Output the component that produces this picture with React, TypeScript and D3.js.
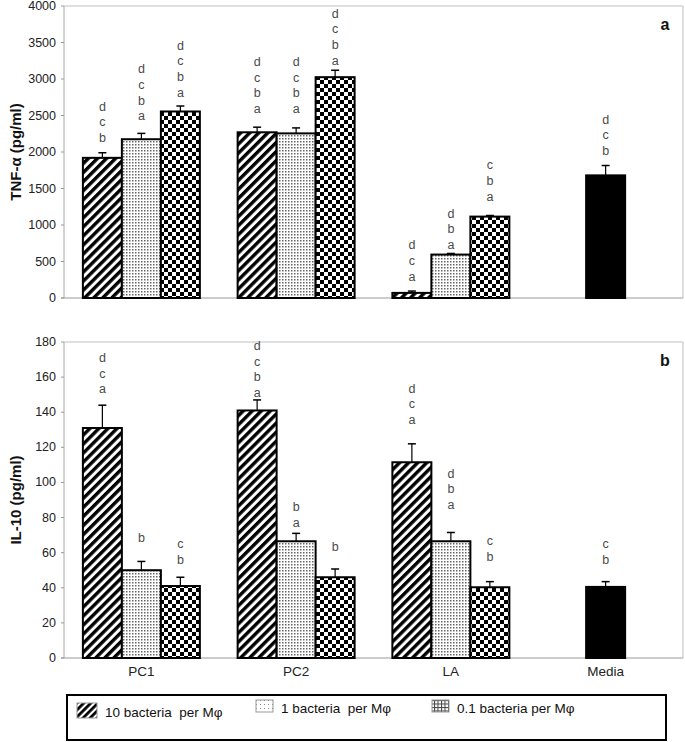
import React from "react";
import * as d3 from "d3";

const categories = ["PC1", "PC2", "LA", "Media"];
const seriesNames = ["10 bacteria  per Mφ", "1 bacteria  per Mφ", "0.1 bacteria per Mφ"];

// TNF-α panel (a): rows = PC1, PC2, LA; columns = series
const tnfMean = [
  [1920, 2175, 2555],
  [2270, 2255, 3025],
  [70, 595, 1115],
];
const tnfSE = [
  [70, 80, 75],
  [70, 75, 95],
  [25, 15, 15],
];
const tnfLetters = [
  ["dcb", "dcba", "dcba"],
  ["dcba", "dcba", "dcba"],
  ["dca", "dba", "cba"],
];
const tnfLetterBase = [
  [2190, 2490, 2810],
  [2590, 2590, 3250],
  [290, 725, 1385],
];
const tnfMedia = 1680;
const tnfMediaSE = 135;
const tnfMediaLetters = "dcb";
const tnfMediaLetterBase = 2015;
const tnfTicks = [0, 500, 1000, 1500, 2000, 2500, 3000, 3500, 4000];

// IL-10 panel (b)
const il10Mean = [
  [131, 50, 41],
  [141, 66.5, 46],
  [111.5, 66.5, 40.3],
];
const il10SE = [
  [13, 5, 5],
  [6, 4.5, 4.7],
  [10.5, 5, 3.2],
];
const il10Letters = [
  ["dca", "b", "cb"],
  ["dcba", "ba", "b"],
  ["dca", "dba", "cb"],
];
const il10LetterBase = [
  [153, 68.4, 55.8],
  [151, 76.9, 63.2],
  [135.6, 87.1, 57.5],
];
const il10Media = 40.5;
const il10MediaSE = 3;
const il10MediaLetters = "cb";
const il10MediaLetterBase = 55.8;
const il10Ticks = [0, 20, 40, 60, 80, 100, 120, 140, 160, 180];

const W = 685;
const H = 742;
const plotLeft = 64;
const plotRight = 683;
const FONT = "'Liberation Sans', Arial, sans-serif";
const fills = ["url(#stripes)", "url(#dots)", "url(#checker)"];

const x = d3.scaleBand<string>().domain(categories).range([plotLeft, plotRight]).padding(0);
const groupFrac = 0.756;

function sub(cat: string) {
  const c = (x(cat) as number) + x.bandwidth() / 2;
  const gw = x.bandwidth() * groupFrac;
  return d3.scaleBand<number>().domain([0, 1, 2]).range([c - gw / 2, c + gw / 2]).padding(0);
}

type PanelProps = {
  top: number;
  bottom: number;
  max: number;
  ticks: number[];
  mean: number[][];
  se: number[][];
  letters: string[][];
  letterBase: number[][];
  media: number;
  mediaSE: number;
  mediaLetters: string;
  mediaLetterBase: number;
  title: string;
  tag: string;
  showX: boolean;
};

function Letters({ cx, base, text, y }: { cx: number; base: number; text: string; y: d3.ScaleLinear<number, number> }) {
  const chars = text.split("");
  const n = chars.length;
  return (
    <g>
      {chars.map((ch, i) => (
        <text
          key={i}
          x={cx}
          y={y(base) - (n - 1 - i) * 15.7}
          textAnchor="middle"
          dominantBaseline="central"
          fontFamily={FONT}
          fontSize={12.5}
          fill="#4a4a4a"
        >
          {ch}
        </text>
      ))}
    </g>
  );
}

function Bar({ x0, w, v, e, y, fill }: { x0: number; w: number; v: number; e: number; y: d3.ScaleLinear<number, number>; fill: string }) {
  const cx = x0 + w / 2;
  return (
    <g>
      <line x1={cx} x2={cx} y1={y(v)} y2={y(v + e)} stroke="#000" strokeWidth={1.2} />
      <line x1={cx - 4} x2={cx + 4} y1={y(v + e)} y2={y(v + e)} stroke="#000" strokeWidth={1.5} />
      <rect x={x0} y={y(v)} width={w} height={y(0) - y(v)} fill={fill} stroke="#000" strokeWidth={2} />
    </g>
  );
}

function Panel(p: PanelProps) {
  const y = d3.scaleLinear().domain([0, p.max]).range([p.bottom, p.top]);
  const mid = (p.top + p.bottom) / 2;
  return (
    <g>
      {/* frame */}
      <line x1={plotLeft} x2={plotRight} y1={p.top} y2={p.top} stroke="#c0c0c0" strokeWidth={1} />
      <line x1={plotRight} x2={plotRight} y1={p.top} y2={p.bottom} stroke="#c0c0c0" strokeWidth={1} />
      <line x1={plotLeft} x2={plotLeft} y1={p.top} y2={p.bottom} stroke="#aaa" strokeWidth={1} />
      <line x1={plotLeft - 3} x2={plotRight} y1={p.bottom} y2={p.bottom} stroke="#999" strokeWidth={1} />
      {p.ticks.map((t) => (
        <g key={t}>
          <line x1={plotLeft - 3} x2={plotLeft} y1={y(t)} y2={y(t)} stroke="#999" />
          <text x={56} y={y(t)} textAnchor="end" dominantBaseline="central" fontFamily={FONT} fontSize={12.5} fill="#222">
            {t}
          </text>
        </g>
      ))}
      <text
        transform={`translate(15,${mid}) rotate(-90)`}
        textAnchor="middle"
        dominantBaseline="central"
        fontFamily={FONT}
        fontSize={15}
        fontWeight="bold"
        fill="#111"
      >
        {p.title}
      </text>
      <text x={665} y={p.top + 18} textAnchor="middle" dominantBaseline="central" fontFamily={FONT} fontSize={16} fontWeight="bold" fill="#111">
        {p.tag}
      </text>
      {categories.slice(0, 3).map((cat, ci) => {
        const s = sub(cat);
        return (
          <g key={cat}>
            {[0, 1, 2].map((si) => (
              <g key={si}>
                <Bar x0={s(si) as number} w={s.bandwidth()} v={p.mean[ci][si]} e={p.se[ci][si]} y={y} fill={fills[si]} />
                <Letters cx={(s(si) as number) + s.bandwidth() / 2} base={p.letterBase[ci][si]} text={p.letters[ci][si]} y={y} />
              </g>
            ))}
          </g>
        );
      })}
      {(() => {
        const s = sub("Media");
        return (
          <g>
            <Bar x0={s(1) as number} w={s.bandwidth()} v={p.media} e={p.mediaSE} y={y} fill="#000" />
            <Letters cx={(s(1) as number) + s.bandwidth() / 2} base={p.mediaLetterBase} text={p.mediaLetters} y={y} />
          </g>
        );
      })()}
      {p.showX &&
        categories.map((cat) => (
          <text
            key={cat}
            x={(x(cat) as number) + x.bandwidth() / 2}
            y={p.bottom + 13}
            textAnchor="middle"
            dominantBaseline="central"
            fontFamily={FONT}
            fontSize={13.5}
            fill="#222"
          >
            {cat}
          </text>
        ))}
    </g>
  );
}

export default function App() {
  const legendX = [77, 256, 432];
  const legendFill = ["url(#stripesLeg)", "url(#dotsLeg)", "url(#gridLeg)"];
  return (
    <svg width={W} height={H} style={{ position: "absolute", left: 0, top: 0, background: "#fff" }}>
      <defs>
        <pattern id="stripes" width={6.4} height={6.4} patternUnits="userSpaceOnUse" patternTransform="rotate(45)">
          <rect width={6.4} height={6.4} fill="#fff" />
          <rect width={3.4} height={6.4} fill="#000" />
        </pattern>
        <pattern id="dots" width={3} height={3} patternUnits="userSpaceOnUse">
          <rect width={3} height={3} fill="#fff" />
          <rect width={1.5} height={1.5} fill="#666" />
        </pattern>
        <pattern id="checker" width={8} height={8} patternUnits="userSpaceOnUse">
          <rect width={8} height={8} fill="#fff" />
          <rect width={4} height={4} fill="#000" />
          <rect x={4} y={4} width={4} height={4} fill="#000" />
        </pattern>
        <pattern id="stripesLeg" width={5} height={5} patternUnits="userSpaceOnUse" patternTransform="rotate(45)">
          <rect width={5} height={5} fill="#fff" />
          <rect width={2.8} height={5} fill="#000" />
        </pattern>
        <pattern id="dotsLeg" width={4} height={4} patternUnits="userSpaceOnUse">
          <rect width={4} height={4} fill="#fff" />
          <rect width={1} height={1} fill="#888" />
        </pattern>
        <pattern id="gridLeg" width={3.5} height={3.5} patternUnits="userSpaceOnUse">
          <rect width={3.5} height={3.5} fill="#fff" />
          <rect width={1} height={3.5} fill="#444" />
          <rect width={3.5} height={1} fill="#444" />
        </pattern>
      </defs>
      <Panel
        top={6}
        bottom={298}
        max={4000}
        ticks={tnfTicks}
        mean={tnfMean}
        se={tnfSE}
        letters={tnfLetters}
        letterBase={tnfLetterBase}
        media={tnfMedia}
        mediaSE={tnfMediaSE}
        mediaLetters={tnfMediaLetters}
        mediaLetterBase={tnfMediaLetterBase}
        title="TNF-α (pg/ml)"
        tag="a"
        showX={false}
      />
      <Panel
        top={342}
        bottom={658}
        max={180}
        ticks={il10Ticks}
        mean={il10Mean}
        se={il10SE}
        letters={il10Letters}
        letterBase={il10LetterBase}
        media={il10Media}
        mediaSE={il10MediaSE}
        mediaLetters={il10MediaLetters}
        mediaLetterBase={il10MediaLetterBase}
        title="IL-10 (pg/ml)"
        tag="b"
        showX={true}
      />
      {/* legend */}
      <rect x={67} y={695} width={599} height={45} fill="#fff" stroke="#000" strokeWidth={2} />
      {seriesNames.map((name, i) => (
        <g key={name}>
          <rect x={legendX[i]} y={i === 0 ? 703 : 700} width={i === 0 ? 20 : 17} height={i === 0 ? 15 : 12} fill={legendFill[i]} stroke="#999" strokeWidth={1} />
          <text
            x={legendX[i] + (i === 0 ? 28 : 25)}
            y={i === 0 ? 712 : 708}
            dominantBaseline="central"
            fontFamily={FONT}
            fontSize={13.5}
            fill="#111"
            style={{ whiteSpace: "pre" }}
          >
            {name}
          </text>
        </g>
      ))}
    </svg>
  );
}
